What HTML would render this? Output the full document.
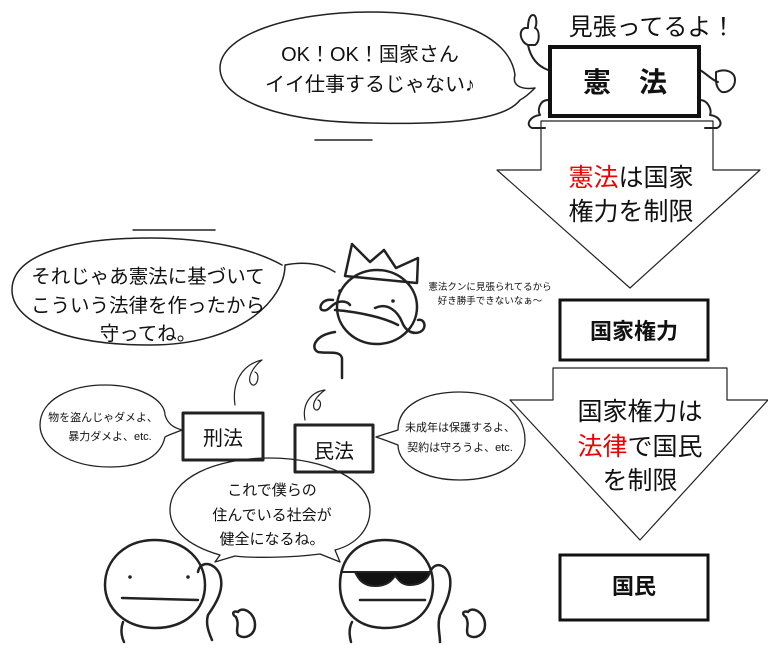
<!DOCTYPE html>
<html><head><meta charset="utf-8"><style>
html,body{margin:0;padding:0;background:#fff;}
svg{display:block;}
text{font-family:"Liberation Sans","Noto Sans CJK JP",sans-serif;fill:#111;}
</style></head><body>
<svg width="768" height="654" viewBox="0 0 768 654" xmlns="http://www.w3.org/2000/svg">
<g fill="none" stroke="#222" stroke-linecap="round" stroke-linejoin="round">
<path d="M520,100 C505,120 450,125 370,123 C280,122 220,100 220,68 C220,35 290,12 370,12 C450,12 510,35 515,75 C512,85 520,90 535,88 C528,95 524,98 520,100Z" stroke-width="1.5"/>
<path d="M315,140 L372,140" stroke-width="1.5"/>
<path d="M548,70 C535,65 530,55 528,45" stroke-width="2"/>
<path d="M528,45 C520,42 518,30 525,28 L528,28 C528,20 530,15 533,15 C537,15 537,25 535,28 C540,30 540,42 535,45 Z" stroke-width="2"/>
<path d="M700,70 C708,75 712,80 718,82" stroke-width="2"/>
<path d="M716,72 C726,68 735,72 735,80 C735,88 728,93 722,92 C718,90 716,85 716,80 Z" stroke-width="2"/>
<path d="M548,100 C540,100 537,110 540,115 C530,116 525,125 532,128 L545,128" stroke-width="2"/>
<path d="M700,100 C708,100 712,110 710,115 C720,116 724,125 717,128 L705,128" stroke-width="2"/>
<path d="M541,121 L713,121 L713,170 L760,170 L630,288 L497,170 L541,170 Z" stroke-width="1.2"/>
<path d="M553,368 L727,368 L727,400 L768,400 L640,540 L510,400 L553,400 Z" stroke-width="1.2"/>
<path d="M335,272 C320,262 300,262 285,265 C285,300 240,345 150,345 C60,345 12,320 12,290 C12,255 70,238 150,238 C210,238 255,250 282,265" stroke-width="1.5"/>
<path d="M133,230 L215,230" stroke-width="1.5"/>
<path d="M345,276 L352,244 L370,262 L384,250 L396,268 L418,258 L417,283 Z" stroke-width="2.5"/>
<ellipse cx="377" cy="307" rx="40" ry="37" stroke-width="2.5"/>
<path d="M333,300 C322,298 318,308 322,310 C328,312 330,306 336,303 C342,300 348,302 350,305" stroke-width="2.5"/>
<path d="M375,308 C388,302 398,312 402,322 C405,330 412,335 420,332 C428,328 424,318 418,320" stroke-width="2.5"/>
<path d="M335,310 C360,312 385,318 398,325" stroke-width="2.5"/>
<circle cx="340" cy="291" r="1.3" fill="#222"/><circle cx="393" cy="301" r="1.3" fill="#222"/>
<path d="M335,332 C315,335 310,348 318,352 C328,354 340,350 342,358 L342,378" stroke-width="2.5"/>
<path d="M235,405 C232,385 240,365 262,360 C255,365 248,375 250,382 C255,392 262,375 255,372" stroke-width="1.2"/>
<path d="M305,420 C302,405 310,392 325,390 C318,395 312,402 314,408 C318,415 324,402 318,400" stroke-width="1.2"/>
<rect x="183" y="413" width="80" height="47" stroke-width="3"/>
<rect x="295" y="425" width="78" height="47" stroke-width="3"/>
<path d="M165,437 C160,460 135,467 110,467 C70,467 40,448 40,425 C40,400 70,385 105,385 C140,385 165,400 165,415 C168,425 175,428 182,430 C175,433 170,434 165,437Z" stroke-width="1.3"/>
<path d="M398,430 C398,405 425,392 460,392 C495,392 525,410 525,440 C525,465 495,480 460,480 C425,480 398,465 398,445 C390,442 385,440 376,437 C385,434 392,432 398,430Z" stroke-width="1.3"/>
<path d="M220,555 C185,545 170,528 170,510 C170,478 215,458 270,458 C325,458 370,480 370,510 C370,530 355,545 335,550 L340,562 L320,554 C290,558 250,558 235,556 L215,562 Z" stroke-width="1.3"/>
<path d="M155,540 C185,540 205,560 205,585 C205,610 185,628 155,628 C125,628 105,608 105,585 C105,560 125,540 155,540Z" stroke-width="2.5"/>
<path d="M122,598 L198,600" stroke-width="2.5"/>
<circle cx="130" cy="577" r="1.3" fill="#222"/><circle cx="188" cy="577" r="1.3" fill="#222"/>
<path d="M198,572 C200,560 215,562 220,575 C225,590 215,605 208,615 C205,625 210,635 212,640" stroke-width="2.5"/>
<path d="M123,622 C120,630 122,638 124,642" stroke-width="2.5"/>
<path d="M236,617 C232,615 232,610 238,612 C242,606 255,612 255,625 C255,635 245,640 238,635 C235,630 240,625 236,617Z" stroke-width="2.5"/>
<path d="M385,540 C415,540 433,560 433,585 C433,610 415,628 385,628 C355,628 340,608 340,585 C340,560 355,540 385,540Z" stroke-width="2.5"/>
<path d="M360,600 L425,600" stroke-width="2.5"/>
<path d="M342,572 L430,572 C428,580 420,585 410,585 C400,585 398,578 395,576 C392,580 388,586 375,586 C362,586 358,578 355,572Z" fill="#111" stroke-width="2"/>
<path d="M430,572 C435,560 448,565 450,578 C452,592 445,605 440,615 C437,625 440,635 440,642" stroke-width="2.5"/>
<path d="M352,622 C348,630 350,638 351,642" stroke-width="2.5"/>
<path d="M466,617 C462,615 462,610 468,612 C472,606 485,612 485,625 C485,635 475,640 468,635 C465,630 470,625 466,617Z" stroke-width="2.5"/>
</g>
<rect x="550" y="47" width="149" height="69" fill="#fff" stroke="#111" stroke-width="4"/>
<rect x="560" y="300" width="148" height="60" fill="#fff" stroke="#111" stroke-width="3"/>
<rect x="560" y="555" width="148" height="65" fill="#fff" stroke="#111" stroke-width="3"/>
<text x="370" y="61" font-size="20" text-anchor="middle">OK！OK！国家さん</text>
<text x="370" y="91" font-size="20" text-anchor="middle">イイ仕事するじゃない♪</text>
<text x="652" y="35" font-size="24" text-anchor="middle">見張ってるよ！</text>
<text x="625" y="92" font-size="28" font-weight="bold" text-anchor="middle">憲　法</text>
<text x="631" y="186" font-size="25" text-anchor="middle"><tspan fill="#e00">憲法</tspan>は国家</text>
<text x="631" y="220" font-size="25" text-anchor="middle">権力を制限</text>
<text x="634" y="339" font-size="22" font-weight="bold" text-anchor="middle">国家権力</text>
<text x="640" y="420" font-size="25" text-anchor="middle">国家権力は</text>
<text x="640" y="455" font-size="25" text-anchor="middle"><tspan fill="#e00">法律</tspan>で国民</text>
<text x="640" y="489" font-size="25" text-anchor="middle">を制限</text>
<text x="634" y="594" font-size="22" font-weight="bold" text-anchor="middle">国民</text>
<text x="148" y="283" font-size="19.5" text-anchor="middle">それじゃあ憲法に基づいて</text>
<text x="148" y="312" font-size="19.5" text-anchor="middle">こういう法律を作ったから</text>
<text x="148" y="340" font-size="19.5" text-anchor="middle">守ってね。</text>
<text x="490" y="290" font-size="9.5" text-anchor="middle">憲法クンに見張られてるから</text>
<text x="490" y="304" font-size="9.5" text-anchor="middle">好き勝手できないなぁ～</text>
<text x="223" y="445" font-size="20" text-anchor="middle">刑法</text>
<text x="334" y="458" font-size="20" text-anchor="middle">民法</text>
<text x="103" y="421" font-size="11" text-anchor="middle">物を盗んじゃダメよ、</text>
<text x="110" y="440" font-size="11" text-anchor="middle">暴力ダメよ、etc.</text>
<text x="460" y="431" font-size="11" text-anchor="middle">未成年は保護するよ、</text>
<text x="460" y="451" font-size="11" text-anchor="middle">契約は守ろうよ、etc.</text>
<text x="272" y="495" font-size="15" text-anchor="middle">これで僕らの</text>
<text x="272" y="520" font-size="15" text-anchor="middle">住んでいる社会が</text>
<text x="272" y="544" font-size="15" text-anchor="middle">健全になるね。</text>
</svg>
</body></html>
